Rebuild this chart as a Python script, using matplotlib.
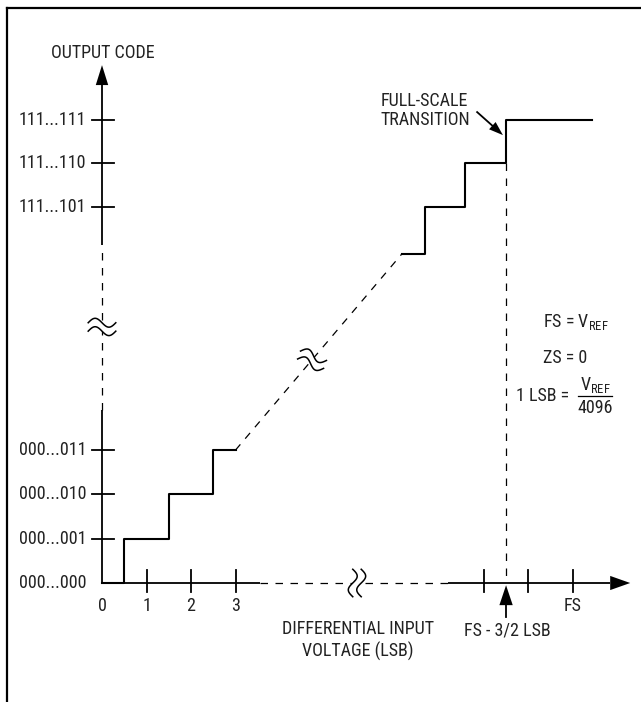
import matplotlib
matplotlib.use('Agg')
import matplotlib.pyplot as plt
from matplotlib import font_manager
from matplotlib.patches import Polygon
import numpy as np

# ---------------- data (x in LSB, y in code steps) ----------------
FS = 10.58
low_step_x = [0.0, 0.5, 1.5, 2.5, 3.0]
low_step_y = [0, 1, 2, 3, 3]
up_step_x = [6.74, 7.26, 8.16, FS - 1.5, 11.0]
up_step_y = [7.43, 8.49, 9.49, 10.45, 10.45]
diag_x = [3.0, 6.74]
diag_y = [3.0, 7.43]
y_tick_pos = [1, 2, 3, 8.49, 9.49, 10.45]
y_tick_labels = ['000...001', '000...010', '000...011', '111...101', '111...110', '111...111']
y_zero_label = '000...000'
x_tick_pos = [1, 2, 3, FS - 2, FS - 1, FS]
x_label_pos = [0, 1, 2, 3, FS]
x_tick_labels = ['0', '1', '2', '3', 'FS']

# ---------------- font ----------------
names = {f.name for f in font_manager.fontManager.ttflist}
fam = 'DejaVu Sans'
for cand in ['Liberation Sans Narrow', 'Roboto Condensed', 'Archivo Narrow', 'PT Sans Narrow',
             'Liberation Sans']:
    if cand in names:
        fam = cand
        break
plt.rcParams['font.family'] = [fam, 'DejaVu Sans']
plt.rcParams['mathtext.fontset'] = 'custom'
plt.rcParams['mathtext.rm'] = fam
plt.rcParams['mathtext.it'] = fam
FSZ = 13
TC = '#222222'

fig = plt.figure(figsize=(6.41, 7.02), dpi=100)
ax = fig.add_axes([0, 0, 1, 1])
PX, PY = 44.5, 44.3
ax.set_xlim(-102 / PX, (641 - 102) / PX)
ax.set_ylim((583 - 702) / PY, 583 / PY)
ax.axis('off')

# frame (top and left)
fig.add_artist(plt.Line2D([7 / 641, 7 / 641], [0, 1 - 8 / 702], color='black', lw=1.6,
                          transform=fig.transFigure))
fig.add_artist(plt.Line2D([7 / 641, 1], [1 - 8 / 702, 1 - 8 / 702], color='black', lw=1.6,
                          transform=fig.transFigure))

LW = 1.5
ALW = 1.3
DASH = dict(color='black', lw=0.9, dashes=(6, 6))


def head(tip, d, L, W):
    d = np.array(d, float)
    d /= np.linalg.norm(d)
    p = np.array([-d[1], d[0]])
    t = np.array(tip, float)
    b = t - L * d
    ax.add_patch(Polygon([t, b + W * p, b - W * p], closed=True, color='black', zorder=4, lw=0))
    return b


def brk(cx, cy, ang, L=0.62, A=0.1, sep=0.19):
    a = np.deg2rad(ang)
    u = np.array([np.cos(a), np.sin(a)])
    v = np.array([-u[1], u[0]])
    t = np.linspace(-0.5, 0.5, 80)
    s = -A * np.sin(2 * np.pi * t)
    c = np.array([cx, cy])
    c1 = c[None, :] + (t * L)[:, None] * u + (s + sep / 2)[:, None] * v
    c2 = c[None, :] + (t * L)[:, None] * u + (s - sep / 2)[:, None] * v
    ax.add_patch(Polygon(np.vstack([c1, c2[::-1]]), closed=True, color='white', zorder=5, lw=0))
    ax.plot(c1[:, 0], c1[:, 1], color='black', lw=1.1, zorder=6)
    ax.plot(c2[:, 0], c2[:, 1], color='black', lw=1.1, zorder=6)


# y axis
ax.plot([0, 0], [0, 3.9], color='black', lw=ALW, solid_capstyle='butt')
ax.plot([0, 0], [3.9, 7.63], **DASH)
yb = head((0, 11.69), (0, 1), 0.45, 0.14)
ax.plot([0, 0], [7.63, yb[1]], color='black', lw=ALW, solid_capstyle='butt')
# x axis
ax.plot([0, 3.55], [0, 0], color='black', lw=ALW, solid_capstyle='butt')
ax.plot([3.55, 7.78], [0, 0], **DASH)
xb = head((11.87, 0), (1, 0), 0.45, 0.16)
ax.plot([7.78, xb[0]], [0, 0], color='black', lw=ALW, solid_capstyle='butt')

# ticks
for y in y_tick_pos:
    ax.plot([-10 / PX, 12 / PX], [y, y], color='black', lw=ALW)
for x in x_tick_pos:
    ax.plot([x, x], [-9 / PY, 13 / PY], color='black', lw=ALW)

# staircases
ax.plot(low_step_x, low_step_y, drawstyle='steps-post', color='black', lw=LW)
ax.plot(up_step_x, up_step_y, drawstyle='steps-post', color='black', lw=LW)
ax.plot(diag_x, diag_y, **DASH)
ax.plot([FS - 1.5, FS - 1.5], [9.49, 0], **DASH)

# break marks
brk(0, 5.78, 0)
brk(5.73, 0, 90)
brk(4.72, 5.04, -20)

# tick labels
for y, lab in zip(y_tick_pos, y_tick_labels):
    ax.text(-16 / PX, y, lab, ha='right', va='center', fontsize=FSZ, color=TC)
ax.text(-16 / PX, 0, y_zero_label, ha='right', va='center', fontsize=FSZ, color=TC)
for x, lab in zip(x_label_pos, x_tick_labels):
    ax.text(x, -0.52, lab, ha='center', va='center', fontsize=FSZ, color=TC)

ax.text(0.02, 11.96, 'OUTPUT CODE', ha='center', va='center', fontsize=FSZ, color=TC)
ax.text(5.75, -1.30, 'DIFFERENTIAL INPUT\nVOLTAGE (LSB)', ha='center', va='center',
        fontsize=FSZ, color=TC, linespacing=1.25)

# FS - 3/2 LSB arrow
hb = head((FS - 1.5, -0.05), (0, 1), 0.45, 0.15)
ax.plot([FS - 1.5, FS - 1.5], [-0.77, hb[1]], color='black', lw=ALW)
ax.text(FS - 1.48, -1.08, 'FS - 3/2 LSB', ha='center', va='center', fontsize=FSZ, color=TC)

# full-scale transition
ax.text(6.25, 10.87, 'FULL-SCALE', ha='left', va='center', fontsize=FSZ, color=TC)
ax.text(6.25, 10.45, 'TRANSITION', ha='left', va='center', fontsize=FSZ, color=TC)
tb = head((9.01, 10.11), (9.01 - 8.43, 10.11 - 10.63), 0.32, 0.11)
ax.plot([8.43, tb[0]], [10.63, tb[1]], color='black', lw=ALW)

# equations
ax.text(9.91, 5.89, r'FS = V$_{\mathrm{REF}}$', ha='left', va='center', fontsize=FSZ, color=TC)
ax.text(9.91, 5.08, 'ZS = 0', ha='left', va='center', fontsize=FSZ, color=TC)
ax.text(9.30, 4.21, '1 LSB =', ha='left', va='center', fontsize=FSZ, color=TC)
fx = (595 - 102) / PX
ax.text(fx, 4.48, r'V$_{\mathrm{REF}}$', ha='center', va='center', fontsize=FSZ, color=TC)
ax.plot([(578 - 102) / PX, (612 - 102) / PX], [4.21, 4.21], color='black', lw=0.9)
ax.text(fx, 3.95, '4096', ha='center', va='center', fontsize=FSZ, color=TC)

fig.savefig('out.png', dpi=100)
